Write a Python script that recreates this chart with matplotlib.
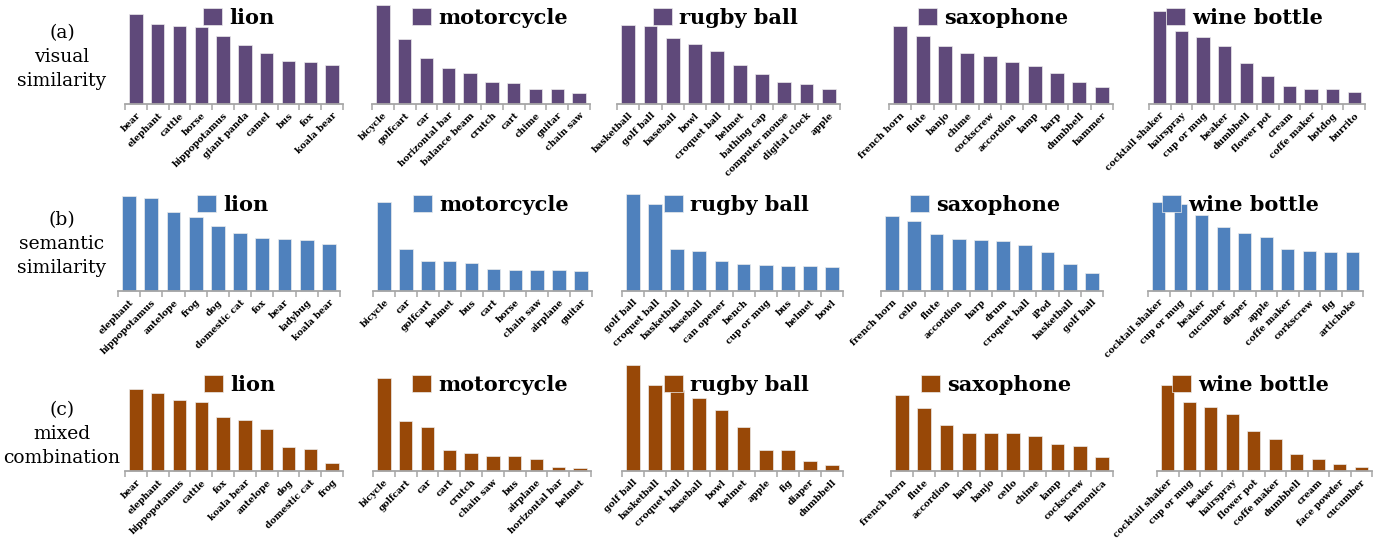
import matplotlib.pyplot as plt
import numpy as np

# target classes (columns) and the three ranking methods (rows)
targets = ['lion', 'motorcycle', 'rugby ball', 'saxophone', 'wine bottle']
row_titles = ['(a)\nvisual\nsimilarity', '(b)\nsemantic\nsimilarity', '(c)\nmixed\ncombination']
row_colors = ['#5F497A', '#4F81BD', '#984807']

visual_names = [
    ['bear', 'elephant', 'cattle', 'horse', 'hippopotamus', 'giant panda', 'camel', 'bus', 'fox', 'koala bear'],
    ['bicycle', 'golfcart', 'car', 'horizontal bar', 'balance beam', 'crutch', 'cart', 'chime', 'guitar', 'chain saw'],
    ['basketball', 'golf ball', 'baseball', 'bowl', 'croquet ball', 'helmet', 'bathing cap', 'computer mouse', 'digital clock', 'apple'],
    ['french horn', 'flute', 'banjo', 'chime', 'cockscrew', 'accordion', 'lamp', 'harp', 'dumbbell', 'hammer'],
    ['cocktail shaker', 'hairspray', 'cup or mug', 'beaker', 'dumbbell', 'flower pot', 'cream', 'coffe maker', 'hotdog', 'burrito'],
]
visual_vals = [
    [90, 80, 78, 77, 68, 59, 51, 43, 42, 39],
    [99, 65, 46, 36, 31, 22, 21, 15, 15, 11],
    [79, 78, 66, 60, 53, 39, 30, 22, 20, 15],
    [78, 68, 58, 51, 48, 42, 38, 31, 22, 17],
    [93, 73, 67, 58, 41, 28, 18, 15, 15, 12],
]

semantic_names = [
    ['elephant', 'hippopotamus', 'antelope', 'frog', 'dog', 'domestic cat', 'fox', 'bear', 'ladybug', 'koala bear'],
    ['bicycle', 'car', 'golfcart', 'helmet', 'bus', 'cart', 'horse', 'chain saw', 'airplane', 'guitar'],
    ['golf ball', 'croquet ball', 'basketball', 'baseball', 'can opener', 'bench', 'cup or mug', 'bus', 'helmet', 'bowl'],
    ['french horn', 'cello', 'flute', 'accordion', 'harp', 'drum', 'croquet ball', 'iPod', 'basketball', 'golf ball'],
    ['cocktail shaker', 'cup or mug', 'beaker', 'cucumber', 'diaper', 'apple', 'coffe maker', 'corkscrew', 'fig', 'artichoke'],
]
semantic_vals = [
    [95, 93, 79, 74, 65, 58, 53, 52, 51, 47],
    [89, 42, 30, 30, 28, 22, 21, 21, 21, 20],
    [97, 87, 42, 40, 30, 27, 26, 25, 25, 24],
    [75, 70, 57, 52, 51, 50, 46, 39, 27, 18],
    [89, 87, 76, 64, 58, 54, 42, 40, 39, 39],
]

mixed_names = [
    ['bear', 'elephant', 'hippopotamus', 'cattle', 'fox', 'koala bear', 'antelope', 'dog', 'domestic cat', 'frog'],
    ['bicycle', 'golfcart', 'car', 'cart', 'crutch', 'chain saw', 'bus', 'airplane', 'horizontal bar', 'helmet'],
    ['golf ball', 'basketball', 'croquet ball', 'baseball', 'bowl', 'helmet', 'apple', 'fig', 'diaper', 'dumbbell'],
    ['french horn', 'flute', 'accordion', 'harp', 'banjo', 'cello', 'chime', 'lamp', 'cockscrew', 'harmonica'],
    ['cocktail shaker', 'cup or mug', 'beaker', 'hairspray', 'flower pot', 'coffe maker', 'dumbbell', 'cream', 'face powder', 'cucumber'],
]
mixed_vals = [
    [82, 78, 71, 69, 54, 51, 42, 24, 22, 8],
    [93, 50, 44, 21, 18, 15, 15, 12, 4.4, 2.7],
    [106, 86, 81, 73, 61, 44, 21, 21, 10, 6],
    [76, 63, 46, 38, 38, 38, 35, 27, 25, 14],
    [86, 69, 64, 57, 40, 32, 17, 12, 7, 4],
]

all_names = [visual_names, semantic_names, mixed_names]
all_vals = [visual_vals, semantic_vals, mixed_vals]

W, H = 1383, 541
fig = plt.figure(figsize=(W / 100, H / 100), dpi=100)

# panel layout in pixels (left, right) per row, baseline y per row
x_spans = [
    [(125, 343), (372, 590), (617, 840), (889, 1113), (1149, 1365)],
    [(118, 340), (373, 592), (622, 843), (881, 1103), (1148, 1363)],
    [(125, 343), (373, 591), (622, 843), (891, 1113), (1157, 1372)],
]
baselines = [104, 291, 471]
leg_x = [
    [203, 412, 653, 918, 1166],
    [197, 413, 664, 910, 1162],
    [204, 412, 664, 921, 1172],
]
leg_dy = 86
ax_h = 110
label_y = [57, 244, 434]

spine_col = '#A6A6A6'

for r in range(3):
    fig.text(62 / W, 1 - label_y[r] / H, row_titles[r], ha='center', va='center',
             family='DejaVu Serif', fontsize=13.5, linespacing=1.45)
    for c in range(5):
        x0, x1 = x_spans[r][c]
        ax = fig.add_axes([x0 / W, 1 - baselines[r] / H, (x1 - x0) / W, ax_h / H])
        vals = all_vals[r][c]
        names = all_names[r][c]
        xs = np.arange(len(vals))
        ax.bar(xs, vals, width=0.62, color=row_colors[r], edgecolor='#ECECEC',
               linewidth=0.5, label=targets[c], clip_on=False)
        ax.set_xlim(-0.5, len(vals) - 0.5)
        ax.set_ylim(0, ax_h)
        ax.patch.set_visible(False)
        for s in ['top', 'right', 'left']:
            ax.spines[s].set_visible(False)
        ax.spines['bottom'].set_color(spine_col)
        ax.spines['bottom'].set_linewidth(1.3)
        ax.set_yticks([])
        ax.set_xticks(xs)
        ax.set_xticklabels(names, rotation=45, ha='right', rotation_mode='anchor',
                           family='DejaVu Serif', fontsize=6.6, fontweight='bold')
        ax.set_xticks(np.arange(-0.5, len(vals)), minor=True)
        ax.tick_params(axis='x', which='major', length=0, pad=5)
        ax.tick_params(axis='x', which='minor', length=4, width=1.1, color=spine_col)
        ax.legend(loc='center left',
                  bbox_to_anchor=(leg_x[r][c] / W, 1 - (baselines[r] - leg_dy) / H),
                  bbox_transform=fig.transFigure, frameon=False, borderpad=0,
                  borderaxespad=0, handlelength=0.9, handleheight=0.9,
                  handletextpad=0.35,
                  prop={'family': 'DejaVu Serif', 'weight': 'bold', 'size': 15})

fig.savefig('out.png', dpi=100)
